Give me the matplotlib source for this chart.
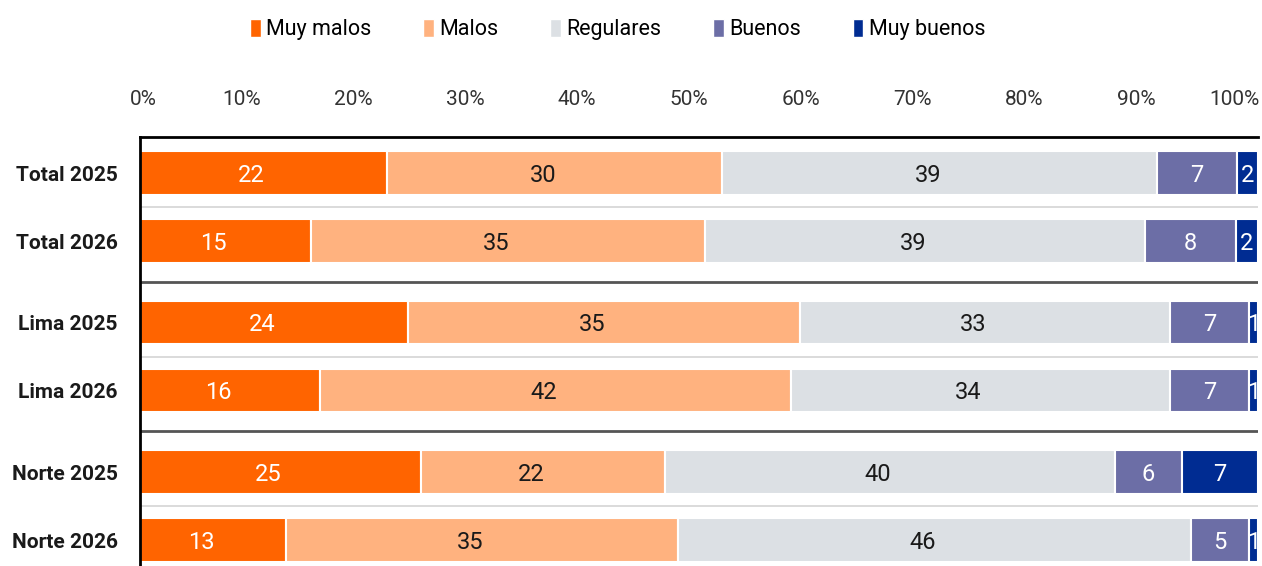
import numpy as np
import matplotlib
matplotlib.use("Agg")
from matplotlib import pyplot as plt
from matplotlib import font_manager
from matplotlib.patches import Patch
from matplotlib.transforms import ScaledTranslation

# pick a narrow-ish font if we have one
names = {f.name for f in font_manager.fontManager.ttflist}
FONT = "DejaVu Sans"
for cand in ["Liberation Sans Narrow", "Roboto", "Liberation Sans"]:
    if cand in names:
        FONT = cand
        break
plt.rcParams["font.family"] = [FONT, "DejaVu Sans"]

rows = ["Total 2025", "Total 2026", "Lima 2025", "Lima 2026", "Norte 2025", "Norte 2026"]
categories = ["Muy malos", "Malos", "Regulares", "Buenos", "Muy buenos"]

muy_malos = [22.1, 15.3, 24.0, 16.1, 25.1, 13.1]
malos = [30.0, 35.2, 35.0, 42.1, 21.9, 35.0]
regulares = [38.9, 39.4, 33.1, 33.9, 40.2, 45.9]
buenos = [7.1, 8.1, 7.1, 7.1, 6.0, 5.2]
muy_buenos = [1.9, 2.0, 0.8, 0.8, 6.8, 0.8]

colors = ["#FF6400", "#FFB27F", "#DCE0E4", "#6C6EA6", "#002C92"]
text_colors = ["white", "#1a1a1a", "#1a1a1a", "white", "white"]

series = [muy_malos, malos, regulares, buenos, muy_buenos]

# rows come in pairs, with a bit of extra gap between groups
ypos = np.array([(i // 2) * 2.2 + (i % 2) for i in range(len(rows))])

fig = plt.figure(figsize=(12.62, 5.66), dpi=100)
ax = fig.add_axes([140 / 1262, 0, (1258 - 140) / 1262, (566 - 137) / 566])

# labels in wide segments sit a bit left of centre in the original
left_nudge = ScaledTranslation(-12 / 100, 0, fig.dpi_scale_trans)

left = np.zeros(len(rows))
for vals, col, tcol, name in zip(series, colors, text_colors, categories):
    vals = np.array(vals)
    ax.barh(ypos, vals, left=left, height=0.64, color=col,
            edgecolor="white", linewidth=1.5, label=name)
    for y, l, v in zip(ypos, left, vals):
        tr = ax.transData + left_nudge if v >= 10 else ax.transData
        ax.text(l + v / 2, y + 0.03, f"{round(v):d}", ha="center", va="center",
                fontsize=17, color=tcol, transform=tr)
    left += vals

# separators between rows / groups
for i in range(len(rows) - 1):
    yy = (ypos[i] + ypos[i + 1]) / 2
    if i % 2 == 0:
        ax.axhline(yy, color="#d4d4d4", lw=1.2, zorder=0)
    else:
        ax.axhline(yy, color="#555555", lw=2, zorder=0)

ax.set_xlim(0, 100)
ax.set_ylim(5.78, -0.53)
ax.set_yticks(ypos)
ax.set_yticklabels(rows, fontsize=15, fontweight="bold", color="#1a1a1a")
ax.xaxis.tick_top()
ax.set_xticks(np.arange(0, 101, 10))
ax.set_xticklabels([f"{t}%" for t in range(0, 101, 10)], fontsize=15, color="#333333")
ax.tick_params(axis="x", length=0, pad=20)
ax.tick_params(axis="y", length=0, pad=16)

# the reference's percent labels sit a little left of the gridpoints
xlabels = ax.get_xticklabels()
for k, lab in enumerate(xlabels):
    if k == 0:
        shift = 3
    elif k == len(xlabels) - 1:
        lab.set_horizontalalignment("right")
        shift = 2
    else:
        shift = -10
    lab.set_transform(lab.get_transform() + ScaledTranslation(shift / 100, 0, fig.dpi_scale_trans))

ax.spines["right"].set_visible(False)
ax.spines["bottom"].set_visible(False)
ax.spines["top"].set_linewidth(2)
ax.spines["left"].set_linewidth(2)

handles = [Patch(facecolor=c, edgecolor="white", label=n) for c, n in zip(colors, categories)]
fig.legend(handles=handles, loc="center", bbox_to_anchor=(0.4895, 0.948), ncol=5,
           frameon=False, fontsize=15.5, handlelength=0.5, handleheight=0.9,
           handletextpad=0.25, columnspacing=2.4)

fig.savefig("out.png", dpi=100)
